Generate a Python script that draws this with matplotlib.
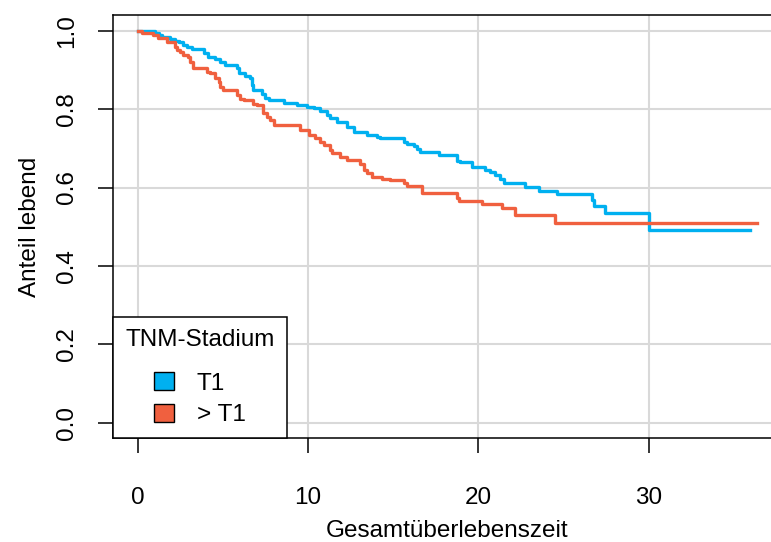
import matplotlib
matplotlib.use("Agg")
import matplotlib.pyplot as plt
from matplotlib.patches import Patch

# Kaplan-Meier steps: time of drop, survival after drop
t1_times = [0.0, 1.02, 1.27, 1.41, 1.90, 2.19, 2.39, 2.68, 2.88, 3.17, 3.86, 4.15,
            4.54, 4.84, 5.13, 5.82, 5.97, 6.30, 6.60, 6.70, 6.79, 7.28, 7.48, 7.68,
            8.56, 9.34, 9.93, 10.32, 10.71, 11.10, 11.30, 11.69, 12.28, 12.67, 13.45,
            14.04, 14.24, 15.61, 15.80, 16.19, 16.39, 16.59, 17.66, 18.74, 18.94,
            19.62, 20.41, 20.70, 20.99, 21.29, 21.48, 22.76, 23.54, 24.62, 26.67,
            26.77, 27.46, 30.00, 35.97]
t1_surv = [1.0, 0.995, 0.989, 0.984, 0.978, 0.974, 0.970, 0.963, 0.959, 0.953, 0.942,
           0.933, 0.927, 0.921, 0.912, 0.904, 0.891, 0.884, 0.878, 0.861, 0.848, 0.838,
           0.827, 0.823, 0.816, 0.810, 0.806, 0.802, 0.796, 0.785, 0.776, 0.768, 0.755,
           0.742, 0.734, 0.728, 0.725, 0.717, 0.711, 0.706, 0.697, 0.691, 0.683, 0.668,
           0.664, 0.653, 0.645, 0.639, 0.632, 0.621, 0.611, 0.602, 0.592, 0.583, 0.568,
           0.554, 0.534, 0.492, 0.492]

gt1_times = [0.0, 0.23, 0.92, 1.21, 1.70, 2.19, 2.29, 2.49, 2.68, 2.92, 3.07, 3.23,
             4.05, 4.25, 4.54, 4.74, 4.84, 5.03, 5.82, 6.01, 6.21, 6.79, 6.99, 7.38,
             7.58, 7.77, 7.97, 9.54, 10.03, 10.42, 10.71, 10.91, 11.30, 11.40, 11.89,
             12.28, 13.06, 13.26, 13.45, 13.75, 14.33, 14.82, 15.61, 15.80, 16.68,
             18.74, 18.84, 20.21, 21.39, 22.17, 24.52, 36.37]
gt1_surv = [1.0, 0.995, 0.989, 0.980, 0.971, 0.959, 0.951, 0.946, 0.938, 0.932, 0.921,
            0.904, 0.895, 0.891, 0.878, 0.870, 0.857, 0.848, 0.836, 0.826, 0.823, 0.814,
            0.810, 0.789, 0.779, 0.772, 0.759, 0.747, 0.734, 0.725, 0.717, 0.708, 0.696,
            0.687, 0.677, 0.670, 0.661, 0.645, 0.636, 0.628, 0.621, 0.619, 0.611, 0.605,
            0.585, 0.573, 0.566, 0.558, 0.547, 0.531, 0.509, 0.509]

groups = ["T1", "> T1"]
colors = ["#00B0F0", "#F0603F"]
x_ticks = [0, 10, 20, 30]
y_ticks = [0.0, 0.2, 0.4, 0.6, 0.8, 1.0]

plt.rcParams["font.family"] = ["Liberation Sans", "DejaVu Sans"]
fs = 17.5

fig = plt.figure(figsize=(7.71, 5.42), dpi=100)
ax = fig.add_axes([0.1466, 0.191, 0.8677, 0.7814])

x_max = max(t1_times[-1], gt1_times[-1])
ax.set_xlim(-0.04 * x_max, 1.04 * x_max)
ax.set_ylim(-0.04, 1.04)

ax.grid(True, color="#D9D9D9", linewidth=1.5)
ax.set_axisbelow(True)

for times, surv, col in [(t1_times, t1_surv, colors[0]), (gt1_times, gt1_surv, colors[1])]:
    ax.step(times, surv, where="post", color=col, linewidth=2.4, zorder=3)

ax.set_xticks(x_ticks)
ax.set_yticks(y_ticks)
ax.set_yticklabels([f"{v:.1f}" for v in y_ticks], rotation=90, va="center")
ax.tick_params(axis="both", labelsize=fs, length=11, width=1.1, direction="out")
ax.tick_params(axis="x", pad=24)
ax.tick_params(axis="y", pad=14)
for sp in ax.spines.values():
    sp.set_linewidth(1.1)

ax.set_xlabel("Gesamtüberlebenszeit", fontsize=fs, labelpad=8)
ax.set_ylabel("Anteil lebend", fontsize=fs, labelpad=11)

handles = [Patch(facecolor=c, edgecolor="black", linewidth=1.0) for c in colors]
leg = ax.legend(handles, groups, title="TNM-Stadium", loc="lower left",
                bbox_to_anchor=(0, 0), borderaxespad=0, fontsize=fs,
                title_fontsize=fs, fancybox=False, framealpha=1, edgecolor="black",
                handlelength=0.8, handleheight=0.8, handletextpad=0.95,
                labelspacing=0.37, borderpad=0.5, alignment="center")
leg.get_frame().set_linewidth(1.1)
# extra room between title and entries, like the R legend
leg._legend_box.sep = 15

fig.savefig("out.png", dpi=100)
